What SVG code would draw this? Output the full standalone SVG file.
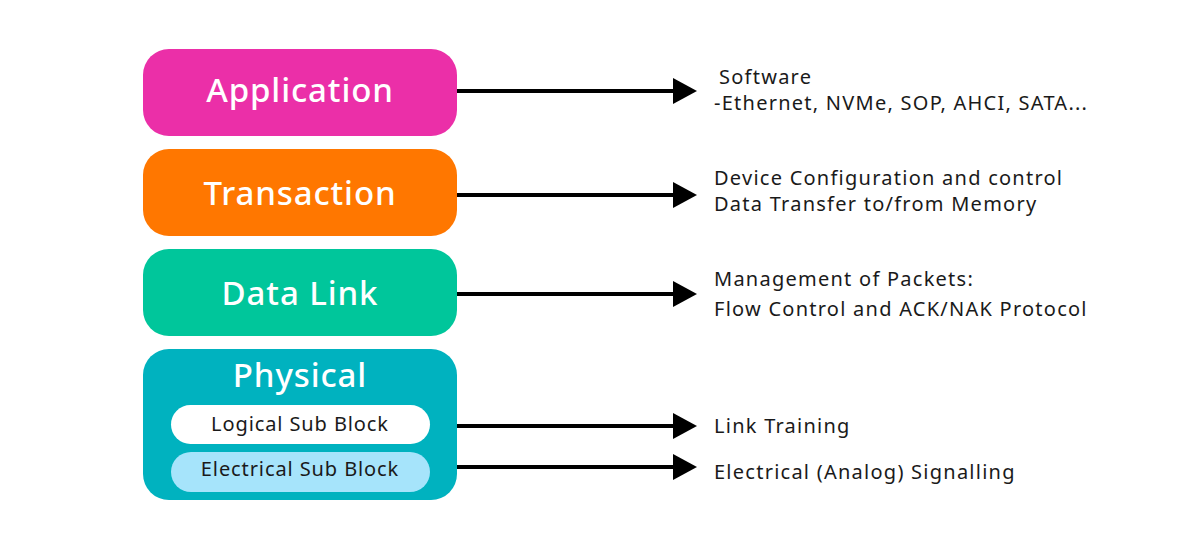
<svg xmlns="http://www.w3.org/2000/svg" width="1200" height="550" viewBox="0 0 1200 550">
<defs>
<style>
.layer{font-family:"Noto Sans","Liberation Sans",sans-serif;font-size:33px;font-weight:500;letter-spacing:0.9px;fill:#ffffff;text-anchor:middle}
.sub{font-family:"Noto Sans","Liberation Sans",sans-serif;font-size:20px;letter-spacing:0.9px;fill:#1a1a1a;text-anchor:middle}
.desc{font-family:"Noto Sans","Liberation Sans",sans-serif;font-size:20px;letter-spacing:1.25px;fill:#1a1a1a}
.conn{stroke:#000;stroke-width:4;fill:none}
</style>
<marker id="ah" markerUnits="userSpaceOnUse" markerWidth="24" markerHeight="26" refX="2" refY="13" orient="auto">
<path d="M0,0 L24,13 L0,26 Z" fill="#000"/>
</marker>
</defs>
<rect width="1200" height="550" fill="#ffffff"/>
<g id="application">
<rect x="143" y="49" width="314" height="87" rx="26" fill="#eb2fa8"/>
<text class="layer" x="300" y="102">Application</text>
</g>
<g id="transaction">
<rect x="143" y="149" width="314" height="87" rx="26" fill="#ff7700"/>
<text class="layer" x="300" y="205">Transaction</text>
</g>
<g id="datalink">
<rect x="143" y="249" width="314" height="87" rx="26" fill="#00c69b"/>
<text class="layer" x="300" y="305">Data Link</text>
</g>
<g id="physical">
<rect x="143" y="349" width="314" height="151" rx="26" fill="#00b2bf"/>
<text class="layer" x="300" y="387">Physical</text>
</g>
<g id="logical">
<rect x="171" y="405" width="259" height="39" rx="19.5" fill="#ffffff"/>
<text class="sub" x="300" y="431">Logical Sub Block</text>
</g>
<g id="electrical">
<rect x="171" y="452" width="259" height="40" rx="20" fill="#a6e4fb"/>
<text class="sub" x="300" y="476">Electrical Sub Block</text>
</g>
<g id="connectors">
<line class="conn" x1="457" y1="91" x2="675" y2="91" marker-end="url(#ah)"/>
<line class="conn" x1="457" y1="195" x2="675" y2="195" marker-end="url(#ah)"/>
<line class="conn" x1="457" y1="294" x2="675" y2="294" marker-end="url(#ah)"/>
<line class="conn" x1="457" y1="426" x2="675" y2="426" marker-end="url(#ah)"/>
<line class="conn" x1="457" y1="467" x2="675" y2="467" marker-end="url(#ah)"/>
</g>
<g id="labels">
<text class="desc" x="719" y="84">Software</text>
<text class="desc" x="714" y="110">-Ethernet, NVMe, SOP, AHCI, SATA...</text>
<text class="desc" x="714" y="185">Device Configuration and control</text>
<text class="desc" x="714" y="211">Data Transfer to/from Memory</text>
<text class="desc" x="714" y="286">Management of Packets:</text>
<text class="desc" x="714" y="316">Flow Control and ACK/NAK Protocol</text>
<text class="desc" x="714" y="433">Link Training</text>
<text class="desc" x="714" y="479">Electrical (Analog) Signalling</text>
</g>
</svg>
